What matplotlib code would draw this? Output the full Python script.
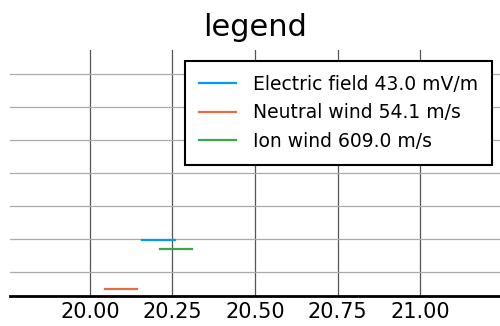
import matplotlib
matplotlib.use("Agg")
import matplotlib.pyplot as plt

# series: each drawn as a short horizontal segment
labels = ["Electric field 43.0 mV/m", "Neutral wind 54.1 m/s", "Ion wind 609.0 m/s"]
x_start = [20.158, 20.045, 20.212]
x_end = [20.258, 20.142, 20.309]
y_level = [0.97, -0.52, 0.70]
colors = ["#009AFA", "#E36F47", "#3EA44E"]

xticks = [20.00, 20.25, 20.50, 20.75, 21.00]
xtick_labels = ["20.00", "20.25", "20.50", "20.75", "21.00"]
yticks = [0, 1, 2, 3, 4, 5, 6]

fig = plt.figure(figsize=(5, 3.26), dpi=100)
ax = fig.add_axes([0.02, 0.092, 0.98, 0.755])

for xs, xe, y, c, lab in zip(x_start, x_end, y_level, colors, labels):
    ax.plot([xs, xe], [y, y], color=c, lw=1.6, label=lab)

ax.set_xlim(19.758, 21.242)
ax.set_ylim(-0.73, 6.73)
ax.set_xticks(xticks)
ax.set_xticklabels(xtick_labels, fontsize=15)
ax.set_yticks(yticks)
ax.set_yticklabels([])
ax.tick_params(axis="both", length=0, pad=4)

# vertical grid darker than horizontal
ax.grid(axis="x", color="#555555", lw=0.9)
ax.grid(axis="y", color="#aaaaaa", lw=0.9)
ax.set_axisbelow(True)

for side in ["left", "right", "top"]:
    ax.spines[side].set_visible(False)
ax.spines["bottom"].set_linewidth(2)
ax.spines["bottom"].set_color("black")

ax.set_title("legend", fontsize=22, pad=10)

leg = ax.legend(loc="upper right", bbox_to_anchor=(0.984, 0.955), fontsize=13.5,
                frameon=True, fancybox=False, handlelength=2.0,
                handletextpad=0.9, borderpad=0.75, labelspacing=0.5,
                borderaxespad=0)
leg.get_frame().set_edgecolor("black")
leg.get_frame().set_linewidth(1.5)
leg.get_frame().set_alpha(1)

fig.savefig("out.png", dpi=100)
